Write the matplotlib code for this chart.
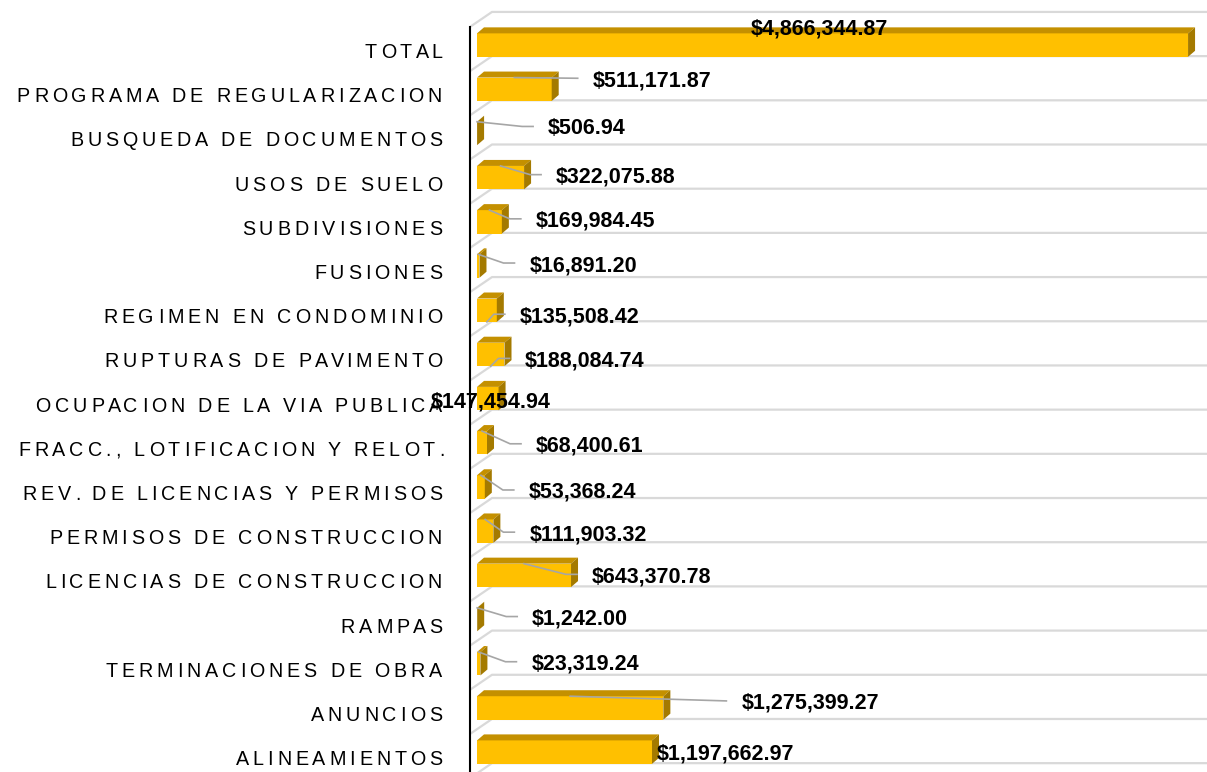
import matplotlib
matplotlib.use("Agg")
import matplotlib.pyplot as plt
from matplotlib.patches import Polygon
from matplotlib.font_manager import FontProperties
import numpy as np

# ---------------- data ----------------
categories = ["TOTAL", "PROGRAMA DE REGULARIZACION", "BUSQUEDA DE DOCUMENTOS",
              "USOS DE SUELO", "SUBDIVISIONES", "FUSIONES", "REGIMEN EN CONDOMINIO",
              "RUPTURAS DE PAVIMENTO", "OCUPACION DE LA VIA PUBLICA",
              "FRACC., LOTIFICACION Y RELOT.", "REV. DE LICENCIAS Y PERMISOS",
              "PERMISOS DE CONSTRUCCION", "LICENCIAS DE CONSTRUCCION", "RAMPAS",
              "TERMINACIONES DE OBRA", "ANUNCIOS", "ALINEAMIENTOS"]
values = [4866344.87, 511171.87, 506.94, 322075.88, 169984.45, 16891.20, 135508.42,
          188084.74, 147454.94, 68400.61, 53368.24, 111903.32, 643370.78, 1242.00,
          23319.24, 1275399.27, 1197662.97]

# ---------------- style / layout ----------------
# data label offsets in pixels (right, down) from bar end centre
label_offsets = [(-437, -19), (41, -11), (71, -7), (32, -3), (34, -3), (50, -3),
                 (23, 4), (20, 4), (-68, 1), (49, 1), (44, 3), (36, 1), (21, -1),
                 (55, -3), (51, -2), (78, -7), (5, -1)]
leader_modes = [None, "top-straight", "top", "top", "top", "top", "bottom", "bottom",
                None, "top", "top", "top", "top", "top", "top", "top-straight", None]

FRONT = "#FFC000"
TOP = "#C49000"
SIDE = "#A47A00"
GRID = "#D9D9D9"
LEADER = "#A6A6A6"
BAR_H = 0.53
DEPTH = (7, 6)          # pixel offset of bar depth
FLOOR = (22, 15)        # pixel offset of floor depth
FONT = ["Liberation Sans", "DejaVu Sans"]
CAT_SIZE = 14.2
LETTER_SP = 3.9         # pixels of extra letter spacing
VAL_SIZE = 15.5

W, H = 1207, 772
fig = plt.figure(figsize=(W / 100, H / 100), dpi=100)
ax = fig.add_axes([470 / W, 0, 737 / W, 1])
ax.set_xlim(-48000, 4996000)
ax.set_ylim(-0.45, 17.02)
ax.set_xticks([])
ax.set_yticks([])
for s in ["top", "right", "bottom"]:
    ax.spines[s].set_visible(False)
ax.spines["left"].set_linewidth(1.5)
ax.spines["left"].set_color("black")
ax.spines["left"].set_bounds(-0.45, 16.41)
ax.spines["left"].set_zorder(6)

n = len(categories)
ypos = np.arange(n)[::-1]


def disp(x, y):
    return ax.transData.transform((x, y))


def data(p):
    return ax.transData.inverted().transform(p)


x_axis = ax.get_xlim()[0]

# floor gridlines
for k in range(n + 1):
    yk = k - 0.25
    p_back = disp(x_axis, yk) + np.array([FLOOR[0], 0])
    p_front = disp(x_axis, yk) + np.array([0, -FLOOR[1]])
    d_back = data(p_back)
    d_front = data(p_front)
    ax.plot([d_front[0], d_back[0], ax.get_xlim()[1]], [d_front[1], d_back[1], yk],
            color=GRID, lw=1.6, zorder=1, solid_capstyle="butt", clip_on=True)

# bars
ax.barh(ypos, values, height=BAR_H, left=0, color=FRONT, zorder=3)
off = np.array(DEPTH, dtype=float)
for y, v in zip(ypos, values):
    top_l = disp(0, y + BAR_H / 2)
    top_r = disp(v, y + BAR_H / 2)
    bot_r = disp(v, y - BAR_H / 2)
    top_poly = [data(top_l), data(top_r), data(top_r + off), data(top_l + off)]
    side_poly = [data(bot_r), data(top_r), data(top_r + off), data(bot_r + off)]
    ax.add_patch(Polygon(top_poly, closed=True, facecolor=TOP, edgecolor="none", zorder=3))
    ax.add_patch(Polygon(side_poly, closed=True, facecolor=SIDE, edgecolor="none", zorder=3))

# category labels (letter-spaced, laid out char by char)
renderer = fig.canvas.get_renderer()
fp = FontProperties(family=FONT, size=CAT_SIZE)


def tw(s):
    return renderer.get_text_width_height_descent(s, fp, ismath=False)[0]


xw = tw("X")
for y, c in zip(ypos, categories):
    starts = [0.0] + [tw(c[:j] + "X") - xw for j in range(1, len(c))]
    total = tw(c) + (len(c) - 1) * LETTER_SP
    x0 = -28 - total
    for j, ch in enumerate(c):
        if ch == " ":
            continue
        ax.annotate(ch, xy=(x_axis, y), xytext=(x0 + starts[j] + j * LETTER_SP, -13),
                    textcoords="offset pixels", ha="left", va="baseline",
                    fontproperties=fp, color="black", annotation_clip=False)

# data labels and leader lines
CAP_HALF = 8
for y, v, (dx, dy), mode in zip(ypos, values, label_offsets, leader_modes):
    txt = "${:,.2f}".format(v)
    ax.annotate(txt, xy=(v, y), xytext=(dx, -(dy + CAP_HALF)),
                textcoords="offset pixels", ha="left", va="baseline",
                fontsize=VAL_SIZE, fontweight="bold", family=FONT, color="black",
                zorder=7, annotation_clip=False)
    if mode is None:
        continue
    base = disp(v, y)
    tl = base[0] + dx
    ty = base[1] - dy
    end = np.array([tl - 15, ty])
    elbow = np.array([tl - 26, ty])
    edge = y + BAR_H / 2 if mode.startswith("top") else y - BAR_H / 2
    start = disp(v / 2, edge)
    pts = [start, end] if mode.endswith("straight") else [start, elbow, end]
    dpts = np.array([data(p) for p in pts])
    ax.plot(dpts[:, 0], dpts[:, 1], color=LEADER, lw=1.2, zorder=5)

fig.savefig("out.png", dpi=100)
